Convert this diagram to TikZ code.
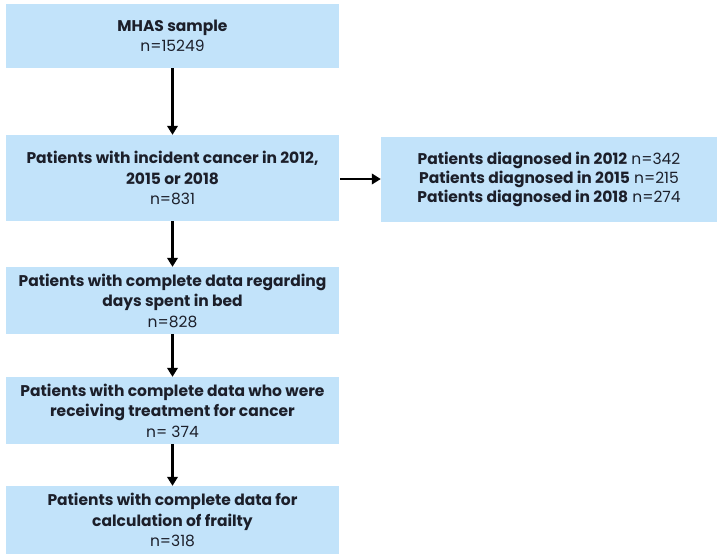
\documentclass[tikz,border=0pt]{standalone}
\usepackage{fontspec}
\setmainfont{Poppins}
\usetikzlibrary{arrows.meta}
\definecolor{boxblue}{HTML}{C2E3FA}
\definecolor{inkdark}{HTML}{1C1F2A}
\tikzset{
  flowbox/.style={fill=boxblue, draw=none, align=center, inner sep=0pt,
    font=\fontsize{15.5}{20.5}\selectfont, text=inkdark},
  sidebox/.style={flowbox, font=\fontsize{15.5}{19}\selectfont},
  flowarrow/.style={-{Triangle[length=9pt,width=10.5pt]}, line width=2.2pt, black}
}
\begin{document}
\begin{tikzpicture}[x=1pt,y=-1pt]
  \useasboundingbox (0,0) rectangle (720,558);
  \node[flowbox, minimum width=333pt, minimum height=64pt] (sample) at (172.5,36)
    {\textbf{MHAS sample}\\n=15249};
  \node[flowbox, minimum width=333pt, minimum height=86pt] (incident) at (172.5,178)
    {\textbf{Patients with incident cancer in 2012,}\\\textbf{2015 or 2018}\\n=831};
  \node[sidebox, minimum width=336pt, minimum height=85pt] (years) at (549,179)
    {\textbf{Patients diagnosed in 2012} n=342\\\textbf{Patients diagnosed in 2015} n=215\\\textbf{Patients diagnosed in 2018} n=274};
  \node[flowbox, minimum width=333pt, minimum height=67pt] (bed) at (172.5,300.5)
    {\textbf{Patients with complete data regarding}\\\textbf{days spent in bed}\\n=828};
  \node[flowbox, minimum width=333pt, minimum height=67pt] (treat) at (172.5,410.5)
    {\textbf{Patients with complete data who were}\\\textbf{receiving treatment for cancer}\\n= 374};
  \node[flowbox, minimum width=333pt, minimum height=68pt] (frail) at (172.5,520)
    {\textbf{Patients with complete data for}\\\textbf{calculation of frailty}\\n=318};
  \draw[flowarrow] (sample.south) -- (incident.north);
  \draw[flowarrow] ([xshift=1pt]incident.east |- years.west) -- (years.west);
  \draw[flowarrow] (incident.south) -- (bed.north);
  \draw[flowarrow] (bed.south) -- (treat.north);
  \draw[flowarrow] (treat.south) -- (frail.north);
\end{tikzpicture}
\end{document}
